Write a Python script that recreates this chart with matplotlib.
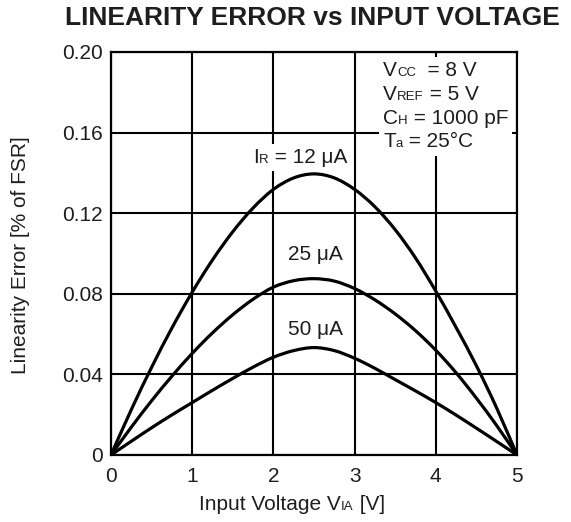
import matplotlib
matplotlib.use("Agg")
import matplotlib.pyplot as plt
from matplotlib.path import Path
from matplotlib.patches import PathPatch
from matplotlib.offsetbox import TextArea, HPacker, VPacker, AnnotationBbox

FONT = "Liberation Sans"
INK = "#1e1e1e"
SIZE = 15      # основной размер текста
SUB = 9.5      # размер "индексов" (VCC, IR, VIA ...)

# Данные
v_in = [0.0, 0.25, 0.5, 0.75, 1.0, 1.25, 1.5, 1.75, 2.0, 2.25, 2.5,
        2.75, 3.0, 3.25, 3.5, 3.75, 4.0, 4.25, 4.5, 4.75, 5.0]
err_12 = [0, 0.0225, 0.0435, 0.0630, 0.0808, 0.0968, 0.1108, 0.1226, 0.1318, 0.1375, 0.1395,
          0.1375, 0.1318, 0.1232, 0.1118, 0.0978, 0.0813, 0.0633, 0.0443, 0.0233, 0]
err_25 = [0, 0.0138, 0.0269, 0.0391, 0.0504, 0.0606, 0.0696, 0.0773, 0.0833, 0.0865, 0.0875,
          0.0863, 0.0826, 0.0770, 0.0700, 0.0617, 0.0520, 0.0408, 0.0282, 0.0146, 0]
err_50 = [0, 0.0068, 0.0135, 0.0199, 0.0260, 0.0321, 0.0380, 0.0436, 0.0485, 0.0518, 0.0533,
          0.0518, 0.0480, 0.0430, 0.0374, 0.0318, 0.0260, 0.0198, 0.0133, 0.0067, 0]
curves = [err_12, err_25, err_50]

x_ticks = [0, 1, 2, 3, 4, 5]
y_ticks = [0, 0.04, 0.08, 0.12, 0.16, 0.20]
y_tick_labels = ["0", "0.04", "0.08", "0.12", "0.16", "0.20"]

# строки с условиями: (текст, индекс?)
conditions = [
    [("V", False), ("CC", True), ("  = 8 V", False)],
    [("V", False), ("REF", True), (" = 5 V", False)],
    [("C", False), ("H", True), (" = 1000 pF", False)],
    [("T", False), ("a", True), (" = 25\u00b0C", False)],
]
label_12 = [("I", False), ("R", True), (" = 12 \u03bcA", False)]
x_label = [("Input Voltage V", False), ("IA", True), (" [V]", False)]


def smooth_path(xs, ys):
    """Гладкая кривая (Catmull-Rom -> Безье) через точки данных"""
    n = len(xs)
    verts = [(xs[0], ys[0])]
    codes = [Path.MOVETO]
    for i in range(n - 1):
        a, b = max(i - 1, 0), min(i + 2, n - 1)
        c1 = (xs[i] + (xs[i + 1] - xs[a]) / 6, ys[i] + (ys[i + 1] - ys[a]) / 6)
        c2 = (xs[i + 1] - (xs[b] - xs[i]) / 6, ys[i + 1] - (ys[b] - ys[i]) / 6)
        verts += [c1, c2, (xs[i + 1], ys[i + 1])]
        codes += [Path.CURVE4] * 3
    return Path(verts, codes)


def rich(parts):
    """Строка текста с мелкими буквами на базовой линии"""
    areas = [TextArea(txt, textprops=dict(family=FONT, color=INK,
                                          fontsize=SUB if sub else SIZE))
             for txt, sub in parts]
    return HPacker(children=areas, align="baseline", pad=0, sep=0)


def place(ax, box, xy, coords, align, pad=0.0):
    ab = AnnotationBbox(box, xy, xycoords=coords, box_alignment=align,
                        frameon=pad > 0, pad=pad,
                        bboxprops=dict(facecolor="white", edgecolor="none"))
    ab.set_zorder(4)
    ax.add_artist(ab)


fig = plt.figure(figsize=(5.71, 5.22), dpi=100)
ax = fig.add_axes([0.1944, 0.1284, 0.7110, 0.7720])

for err in curves:
    ax.add_patch(PathPatch(smooth_path(v_in, err), fill=False,
                           edgecolor="black", lw=2.3, zorder=3))

ax.set_xlim(0, 5)
ax.set_ylim(0, 0.20)
ax.set_xticks(x_ticks)
ax.set_yticks(y_ticks)
ax.set_yticklabels(y_tick_labels)
ax.grid(True, color="black", linewidth=1.5)
for s in ax.spines.values():
    s.set_linewidth(1.6)
ax.tick_params(length=0, labelsize=SIZE, labelcolor=INK)
ax.tick_params(axis="x", pad=9)
ax.tick_params(axis="y", pad=6)
for lab in ax.get_xticklabels() + ax.get_yticklabels():
    lab.set_family(FONT)

ax.set_ylabel("Linearity Error [% of FSR]", family=FONT, fontsize=SIZE, color=INK)
ax.yaxis.set_label_coords(-0.2, 0.496)

# подпись оси X
place(ax, rich(x_label), (0.446, -0.147), "axes fraction", (0.5, 0))

# блок с условиями
block = VPacker(children=[rich(line) for line in conditions],
                align="left", pad=0, sep=3.5)
place(ax, block, (0.670, 0.978), "axes fraction", (0, 1), pad=0.3)

# подписи кривых
place(ax, rich(label_12), (2.33, 0.1429), "data", (0.5, 0), pad=0.3)
ax.text(2.52, 0.0968, "25 \u03bcA", family=FONT, fontsize=SIZE, color=INK,
        ha="center", va="baseline")
ax.text(2.52, 0.0596, "50 \u03bcA", family=FONT, fontsize=SIZE, color=INK,
        ha="center", va="baseline")

fig.text(312 / 571, 1 - 25 / 522, "LINEARITY ERROR vs INPUT VOLTAGE",
         family=FONT, fontsize=19, weight="bold", color=INK,
         ha="center", va="baseline")

fig.savefig("out.png", dpi=100)
